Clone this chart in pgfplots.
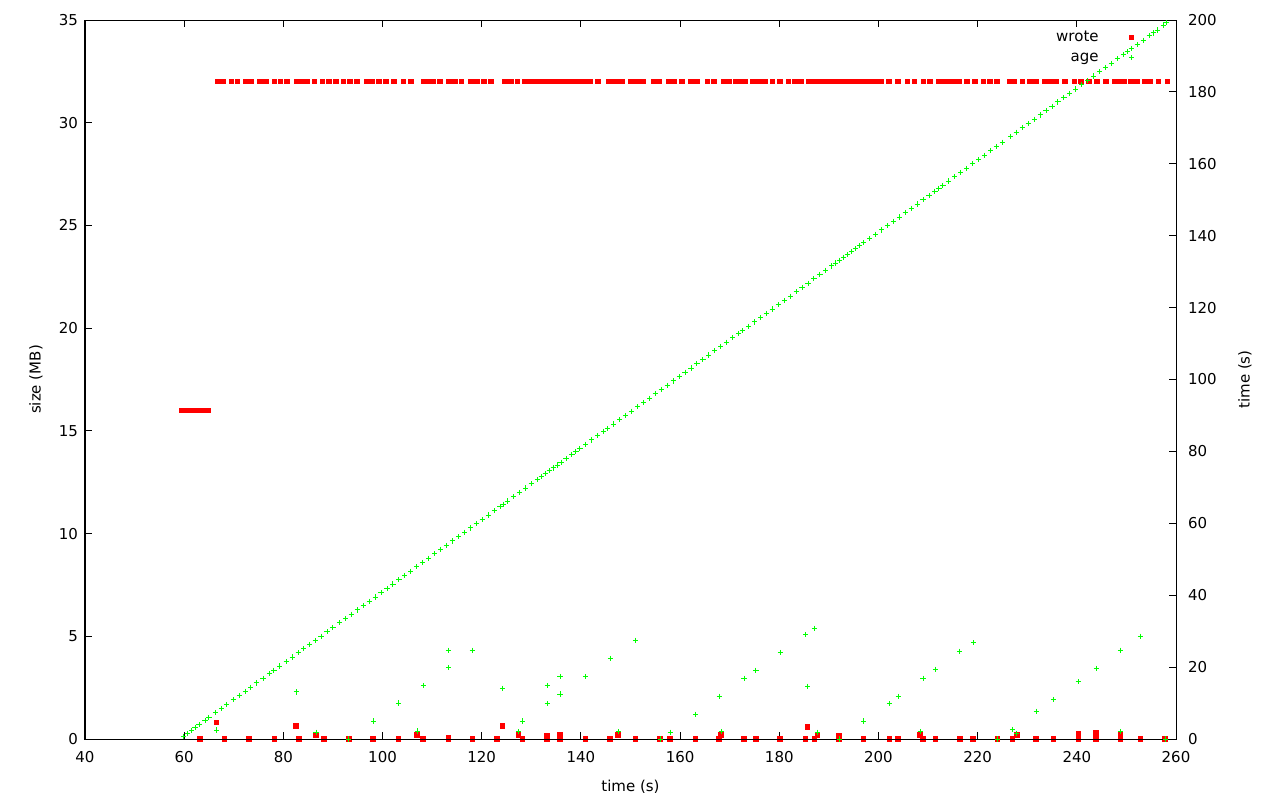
\documentclass[border=0pt]{standalone}
\usepackage{pgfplots}
\pgfplotsset{compat=1.18}
\usepackage{fontspec}
\setmainfont{DejaVu Sans}
\newcommand{\gf}{\fontsize{7.5pt}{9pt}\selectfont}
\definecolor{gred}{RGB}{255,0,0}
\definecolor{ggreen}{RGB}{0,255,0}
\pgfplotsset{
  myleg/.style={legend image code/.code={\path[draw=none,fill=none] (0pt,-1pt) rectangle (22pt,1pt); \draw[##1] plot coordinates {(16.5pt,0pt)};}},
  common/.style={
    scale only axis, width=545.5pt, height=359.5pt,
    at={(42.5pt,30.5pt)}, anchor=south west,
    xmin=40, xmax=260,
    /pgf/number format/assume math mode=true,
    tick label style={font=\gf},
    label style={font=\gf},
    tick align=inside,
    major tick length=3.5pt,
    every tick/.style={black, line width=0.5pt},
    axis line style={line width=0.5pt, black},
    clip marker paths=false,
  }
}
\begin{document}
\begin{tikzpicture}
\useasboundingbox (0,0) rectangle (640pt,400pt);
\begin{axis}[common,
  ymin=0, ymax=35, ytick={0,5,...,35}, xtick={40,60,...,260},
  xtick pos=both, ytick pos=left,
  xticklabel style={yshift=-2.5pt},
  xlabel={time (s)}, ylabel={size (MB)},
  every axis x label/.style={at={(axis description cs:0.5,-0.0668)}, anchor=center, font=\gf},
  every axis y label/.style={at={(axis description cs:-0.0449,0.5)}, anchor=center, rotate=90, font=\gf},
]
% wrote (MB)
\addplot[only marks, mark=square*, mark size=1.15pt, color=gred, mark options={draw=gred, fill=gred, line width=0pt}] coordinates {
(59.6,16)(60.0,16)(60.4,16)(60.8,16)(61.2,16)(61.6,16)(62.0,16)(62.4,16)(62.8,16)(63.2,16)(63.6,16)(64.0,16)(64.4,16)(64.8,16)
(66.82,32)(67.77,32)(69.58,32)(70.79,32)(72.47,32)(73.61,32)(75.29,32)(76.44,32)(78.25,32)(79.46,32)(80.79,32)(82.81,32)(83.70,32)(84.71,32)(86.24,32)(87.93,32)(89.20,32)(90.61,32)(92.09,32)(93.38,32)(94.79,32)(96.81,32)(97.93,32)(99.29,32)(100.64,32)(102.31,32)(104.19,32)(105.74,32)
(108.22,32)(109.11,32)(110.24,32)(111.59,32)(113.46,32)(114.61,32)(115.96,32)(117.78,32)(118.99,32)(120.46,32)(121.87,32)(124.7,32)(125.9,32)(127.18,32)(128.59,32)
(129.6,32)(130.4,32)(131.2,32)(132.0,32)(132.8,32)(133.6,32)(134.4,32)(135.2,32)(136.0,32)(136.8,32)(137.6,32)(138.4,32)(139.2,32)(140.0,32)(140.8,32)(141.82,32)(143.4,32)
(145.53,32)(146.41,32)(147.34,32)(148.35,32)(150.1,32)(151.25,32)(152.46,32)(154.6,32)(155.75,32)(157.63,32)(158.78,32)(160.33,32)(162.14,32)(163.35,32)(165.49,32)(166.84,32)(168.86,32)(169.93,32)(171.28,32)(172.23,32)(173.1,32)(174.76,32)(175.91,32)(177.13,32)(178.6,32)(180.15,32)(181.82,32)(183.17,32)
(184.39,32)(186.0,32)(187.21,32)(188.4,32)(189.2,32)(190.0,32)(190.8,32)(191.6,32)(192.4,32)(193.2,32)(194.0,32)(194.8,32)(195.6,32)(196.4,32)(197.2,32)(198.0,32)(198.8,32)(199.6,32)
(200.52,32)(202.13,32)(203.89,32)(205.82,32)(207.23,32)(209.05,32)(210.4,32)(212.07,32)(213.02,32)(214.09,32)(215.1,32)(216.25,32)(217.8,32)(219.47,32)(221.15,32)(222.5,32)
(223.85,32)(226.53,32)(227.4,32)(229.01,32)(230.56,32)(231.71,32)(233.59,32)(234.74,32)(235.75,32)(237.62,32)(239.5,32)(240.85,32)(242.46,32)(244.02,32)(245.83,32)(247.57,32)(248.51,32)(249.58,32)(250.87,32)(252.08,32)(253.76,32)(254.76,32)(256.44,32)(258.25,32)
(63.2,0)(66.5,0.81)(68.1,0)(73.1,0)(78.2,0)(82.6,0.62)(83.2,0)(86.6,0.2)(88.2,0)(93.2,0)(98.1,0)(103.2,0)(107.0,0.2)(108.2,0)(113.3,0)(113.3,0.06)(118.1,0)(123.1,0)(124.2,0.62)(127.4,0.2)(128.2,0)(133.2,0)(133.2,0.15)(135.8,0)(135.8,0.2)
(140.9,0)(145.9,0)(147.5,0.2)(151.0,0)(156.0,0)(158.0,0)(163.1,0)(167.9,0)(168.3,0.2)(172.9,0)(175.3,0)(180.2,0)(185.3,0)(185.7,0.57)(187.1,0)(187.7,0.2)(192.1,0)(192.1,0.15)(197.0,0)
(202.2,0)(204.0,0)(208.4,0.2)(209.0,0)(211.5,0)(216.4,0)(219.1,0)(224.0,0)(227.0,0)(227.9,0.2)(231.8,0)(235.3,0)(240.3,0)(240.3,0.12)(240.3,0.25)(243.9,0)(243.9,0.28)(248.8,0)(248.8,0.12)(248.8,0.2)(252.8,0)(257.8,0)
};
\end{axis}
\begin{axis}[common,
  ymin=0, ymax=200, ytick={0,20,...,200}, xtick=\empty,
  ytick pos=right, yticklabel pos=right,
  yticklabel style={xshift=2.5pt},
  ylabel={time (s)},
  every axis y label/.style={at={(axis description cs:1.0632,0.5)}, anchor=center, rotate=90, font=\gf},
  legend style={draw=none, fill=none, at={(axis description cs:1,1)}, anchor=north east,
    xshift=-16.5pt, yshift=-5pt, font=\gf, row sep=3pt, inner sep=0pt,
    nodes={inner sep=0pt, text height=5.5pt, text depth=1.5pt}},
  legend cell align=right,
  legend plot pos=right,
]
\addlegendimage{only marks, mark=square*, mark size=1.15pt, color=gred, mark options={draw=gred, fill=gred, line width=0pt}, myleg}
\addlegendentry{wrote}
\addplot[only marks, mark=+, mark size=1.3pt, color=ggreen, mark options={line width=0.5pt}, myleg] coordinates {
(59.8,0.8)(60.6,1.6)(61.4,2.4)(62.2,3.2)(63.0,4.0)(64.2,5.2)(65.0,6.0)(66.3,7.3)(67.5,8.5)(68.6,9.6)(69.9,10.9)(71.1,12.1)(72.3,13.3)(73.4,14.4)(74.6,15.6)(75.9,16.9)(77.2,18.2)(78.1,19.1)(79.3,20.3)(80.6,21.6)
(81.8,22.8)(83.0,24.0)(84.1,25.1)(85.3,26.3)(86.4,27.4)(87.6,28.6)(88.8,29.8)(90.0,31.0)(91.3,32.3)(92.5,33.5)(93.7,34.7)(94.9,35.9)(96.1,37.1)(97.3,38.3)(98.5,39.5)(99.7,40.7)(100.9,41.9)(102.1,43.1)(103.3,44.3)(104.5,45.5)
(105.7,46.7)(106.9,47.9)(108.1,49.1)(109.3,50.3)(110.5,51.5)(111.7,52.7)(112.9,53.9)(114.1,55.1)(115.3,56.3)(116.5,57.5)(117.7,58.7)(118.9,59.9)(120.1,61.1)(121.3,62.3)(122.5,63.5)(123.7,64.7)(124.3,65.3)(125.2,66.2)(126.4,67.4)(127.6,68.6)
(128.8,69.8)(130.0,71.0)(131.2,72.2)(132.0,73.0)(132.8,73.8)(133.6,74.6)(134.4,75.4)(135.2,76.2)(136.0,77.0)(137.0,78.0)(138.2,79.2)(139.0,80.0)(139.8,80.8)(141.0,82.0)(142.2,83.2)(143.4,84.4)(144.6,85.6)(145.4,86.4)(146.6,87.6)(147.8,88.8)
(149.0,90.0)(150.2,91.2)(151.4,92.4)(152.6,93.6)(153.8,94.8)(155.0,96.0)(156.2,97.2)(157.4,98.4)(158.6,99.6)(159.8,100.8)(161.0,102.0)(162.2,103.2)(163.4,104.4)(164.6,105.6)(165.8,106.8)(167.0,108.0)(168.2,109.2)(169.4,110.4)(170.6,111.6)(171.8,112.8)
(172.6,113.6)(173.8,114.8)(175.0,116.0)(176.2,117.2)(177.4,118.4)(178.6,119.6)(179.8,120.8)(181.0,122.0)(182.2,123.2)(183.4,124.4)(184.6,125.6)(185.8,126.8)(187.0,128.0)(188.2,129.2)(189.4,130.4)(190.6,131.6)(191.4,132.4)(192.2,133.2)(193.0,134.0)(193.8,134.8)
(194.6,135.6)(195.4,136.4)(196.2,137.2)(197.0,138.0)(198.2,139.2)(199.4,140.4)(200.6,141.6)(201.8,142.8)(203.0,144.0)(204.2,145.2)(205.4,146.4)(206.6,147.6)(207.8,148.8)(209.0,150.0)(210.2,151.2)(211.4,152.4)(212.2,153.2)(213.0,154.0)(214.2,155.2)(215.4,156.4)
(216.6,157.6)(217.8,158.8)(219.0,160.0)(220.2,161.2)(221.4,162.4)(222.6,163.6)(223.8,164.8)(225.0,166.0)(226.6,167.6)(227.8,168.8)(229.0,170.0)(230.2,171.2)(231.4,172.4)(232.6,173.6)(233.8,174.8)(235.0,176.0)(236.2,177.2)(237.4,178.4)(238.6,179.6)(239.8,180.8)
(241.0,182.0)(242.2,183.2)(243.4,184.4)(244.6,185.6)(245.8,186.8)(247.0,188.0)(248.2,189.2)(249.4,190.4)(250.2,191.2)(251.0,192.0)(252.2,193.2)(253.4,194.4)(254.6,195.6)(255.4,196.4)(256.2,197.2)(257.4,198.4)(258.0,199.2)
(66.5,2.5)(82.6,13.1)(86.6,1.9)(93.2,0)(98.1,5)(103.2,10)(107.0,2.2)(108.2,14.9)(113.3,24.7)(113.3,19.9)(118.1,24.7)(124.2,14.1)(127.4,2.1)(128.2,5)(133.2,14.9)(133.2,9.9)(135.8,17.4)(135.8,12.5)
(140.9,17.4)(145.9,22.4)(147.5,2.1)(151.0,27.5)(156.0,0)(158.0,1.9)(163.1,6.9)(167.9,11.9)(168.3,2.1)(172.9,16.9)(175.3,19.1)(180.2,24.1)(185.3,29.1)(185.7,14.7)(187.1,30.8)(187.7,1.9)(192.1,0)
(197.0,5)(202.2,9.9)(204.0,11.9)(208.4,2.1)(209.0,16.9)(211.5,19.4)(216.4,24.4)(219.1,26.8)(224.0,0)(227.0,2.7)(227.9,1.6)(231.8,7.7)(235.3,11)(240.3,16)(243.9,19.7)(248.8,24.7)(248.8,2.1)(252.8,28.6)(257.8,0)
};
\addlegendentry{age}
\end{axis}
\end{tikzpicture}
\end{document}
